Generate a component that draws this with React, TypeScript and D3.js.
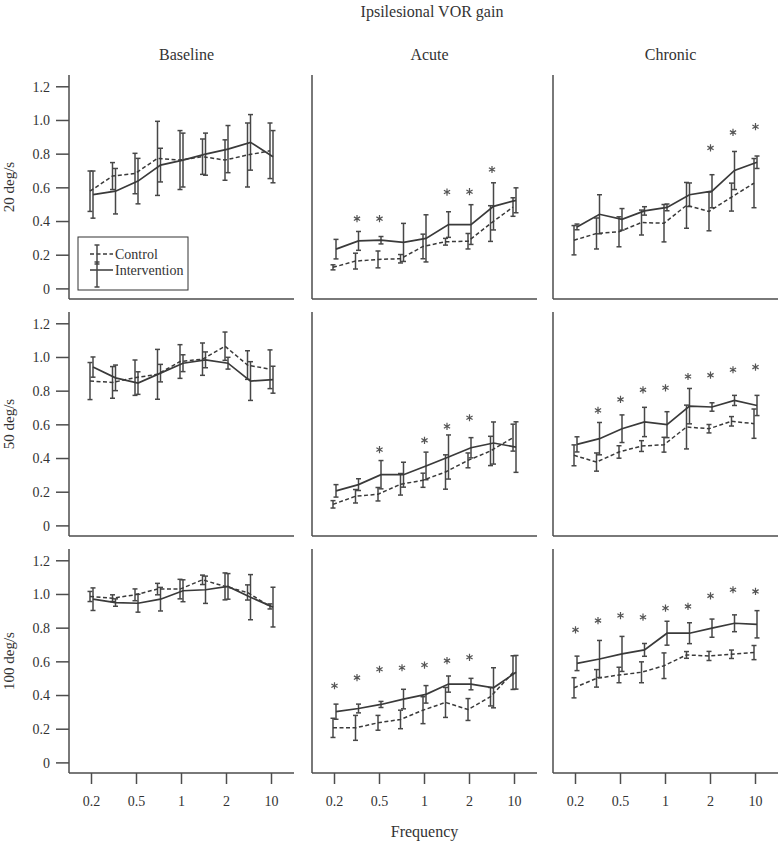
import React from "react";
import * as d3 from "d3";

// ---------- data ----------
const frequencies = ["0.2", "0.3", "0.5", "0.7", "1", "1.5", "2", "5", "10"];
const tickFrequencies = ["0.2", "0.5", "1", "2", "10"];
const phases = ["Baseline", "Acute", "Chronic"];
const velocities = ["20 deg/s", "50 deg/s", "100 deg/s"];
const yTicks = [0, 0.2, 0.4, 0.6, 0.8, 1.0, 1.2];

// 20 deg/s
const baseline20Control = [0.58, 0.67, 0.685, 0.775, 0.765, 0.785, 0.765, 0.795, 0.82];
const baseline20ControlErr = [0.12, 0.08, 0.12, 0.22, 0.175, 0.105, 0.12, 0.19, 0.165];
const baseline20Interv = [0.56, 0.58, 0.64, 0.735, 0.765, 0.8, 0.83, 0.87, 0.785];
const baseline20IntervErr = [0.14, 0.135, 0.135, 0.1, 0.16, 0.125, 0.14, 0.165, 0.155];
const baseline20Stars: [number, number][] = [];

const acute20Control = [0.128, 0.165, 0.175, 0.179, 0.252, 0.28, 0.283, 0.388, 0.486];
const acute20ControlErr = [0.015, 0.047, 0.05, 0.025, 0.073, 0.02, 0.046, 0.106, 0.055];
const acute20Interv = [0.236, 0.285, 0.289, 0.276, 0.3, 0.382, 0.382, 0.49, 0.526];
const acute20IntervErr = [0.058, 0.056, 0.022, 0.113, 0.14, 0.076, 0.118, 0.14, 0.074];
const acute20Stars: [number, number][] = [[1, 0.417], [2, 0.417], [5, 0.575], [6, 0.577], [7, 0.709]];

const chronic20Control = [0.289, 0.329, 0.339, 0.394, 0.39, 0.496, 0.46, 0.545, 0.628];
const chronic20ControlErr = [0.087, 0.092, 0.089, 0.074, 0.111, 0.136, 0.115, 0.083, 0.146];
const chronic20Interv = [0.368, 0.443, 0.413, 0.463, 0.484, 0.559, 0.58, 0.703, 0.752];
const chronic20IntervErr = [0.017, 0.116, 0.064, 0.025, 0.02, 0.07, 0.098, 0.113, 0.037];
const chronic20Stars: [number, number][] = [[6, 0.837], [7, 0.929], [8, 0.963]];

// 50 deg/s
const baseline50Control = [0.86, 0.852, 0.88, 0.9, 0.976, 0.99, 1.067, 0.955, 0.93];
const baseline50ControlErr = [0.11, 0.094, 0.105, 0.148, 0.1, 0.096, 0.084, 0.085, 0.115];
const baseline50Interv = [0.943, 0.879, 0.848, 0.907, 0.966, 0.986, 0.966, 0.86, 0.868];
const baseline50IntervErr = [0.06, 0.076, 0.067, 0.052, 0.05, 0.047, 0.035, 0.115, 0.08];
const baseline50Stars: [number, number][] = [];

const acute50Control = [0.128, 0.176, 0.188, 0.247, 0.271, 0.32, 0.389, 0.445, 0.524];
const acute50ControlErr = [0.022, 0.04, 0.04, 0.064, 0.042, 0.102, 0.044, 0.087, 0.08];
const acute50Interv = [0.208, 0.245, 0.304, 0.304, 0.356, 0.409, 0.464, 0.492, 0.468];
const acute50IntervErr = [0.037, 0.035, 0.084, 0.074, 0.082, 0.131, 0.06, 0.125, 0.15];
const acute50Stars: [number, number][] = [[2, 0.453], [4, 0.508], [5, 0.591], [6, 0.642]];

const chronic50Control = [0.419, 0.379, 0.439, 0.474, 0.482, 0.587, 0.577, 0.621, 0.607];
const chronic50ControlErr = [0.062, 0.054, 0.037, 0.032, 0.044, 0.13, 0.025, 0.028, 0.087];
const chronic50Interv = [0.484, 0.518, 0.577, 0.617, 0.601, 0.711, 0.706, 0.745, 0.715];
const chronic50IntervErr = [0.045, 0.096, 0.082, 0.087, 0.077, 0.105, 0.025, 0.03, 0.06];
const chronic50Stars: [number, number][] = [[1, 0.686], [2, 0.751], [3, 0.808], [4, 0.82], [5, 0.887], [6, 0.895], [7, 0.927], [8, 0.943]];

// 100 deg/s
const baseline100Control = [0.988, 0.978, 0.998, 1.032, 1.032, 1.087, 1.048, 1.012, 0.929];
const baseline100ControlErr = [0.03, 0.02, 0.035, 0.034, 0.058, 0.028, 0.08, 0.045, 0.015];
const baseline100Interv = [0.972, 0.952, 0.948, 0.972, 1.022, 1.028, 1.048, 0.984, 0.925];
const baseline100IntervErr = [0.067, 0.022, 0.053, 0.07, 0.065, 0.081, 0.076, 0.134, 0.118];
const baseline100Stars: [number, number][] = [];

const acute100Control = [0.208, 0.208, 0.238, 0.258, 0.313, 0.359, 0.317, 0.393, 0.536];
const acute100ControlErr = [0.057, 0.074, 0.044, 0.055, 0.08, 0.089, 0.065, 0.055, 0.1];
const acute100Interv = [0.304, 0.323, 0.347, 0.379, 0.407, 0.468, 0.468, 0.446, 0.538];
const acute100IntervErr = [0.045, 0.026, 0.018, 0.058, 0.052, 0.048, 0.034, 0.119, 0.1];
const acute100Stars: [number, number][] = [[0, 0.458], [1, 0.506], [2, 0.556], [3, 0.565], [4, 0.581], [5, 0.607], [6, 0.627]];

const chronic100Control = [0.446, 0.502, 0.522, 0.538, 0.577, 0.641, 0.635, 0.645, 0.655];
const chronic100ControlErr = [0.06, 0.052, 0.046, 0.062, 0.076, 0.02, 0.027, 0.025, 0.042];
const chronic100Interv = [0.591, 0.617, 0.647, 0.671, 0.77, 0.77, 0.8, 0.829, 0.823];
const chronic100IntervErr = [0.043, 0.11, 0.104, 0.038, 0.071, 0.062, 0.054, 0.05, 0.081];
const chronic100Stars: [number, number][] = [[0, 0.79], [1, 0.845], [2, 0.875], [3, 0.865], [4, 0.919], [5, 0.929], [6, 0.992], [7, 1.028], [8, 1.018]];

type Panel = {
  c: number[]; ce: number[]; v: number[]; ve: number[]; stars: [number, number][];
};

const panels: Panel[][] = [
  [
    { c: baseline20Control, ce: baseline20ControlErr, v: baseline20Interv, ve: baseline20IntervErr, stars: baseline20Stars },
    { c: acute20Control, ce: acute20ControlErr, v: acute20Interv, ve: acute20IntervErr, stars: acute20Stars },
    { c: chronic20Control, ce: chronic20ControlErr, v: chronic20Interv, ve: chronic20IntervErr, stars: chronic20Stars },
  ],
  [
    { c: baseline50Control, ce: baseline50ControlErr, v: baseline50Interv, ve: baseline50IntervErr, stars: baseline50Stars },
    { c: acute50Control, ce: acute50ControlErr, v: acute50Interv, ve: acute50IntervErr, stars: acute50Stars },
    { c: chronic50Control, ce: chronic50ControlErr, v: chronic50Interv, ve: chronic50IntervErr, stars: chronic50Stars },
  ],
  [
    { c: baseline100Control, ce: baseline100ControlErr, v: baseline100Interv, ve: baseline100IntervErr, stars: baseline100Stars },
    { c: acute100Control, ce: acute100ControlErr, v: acute100Interv, ve: acute100IntervErr, stars: acute100Stars },
    { c: chronic100Control, ce: chronic100ControlErr, v: chronic100Interv, ve: chronic100IntervErr, stars: chronic100Stars },
  ],
];

// ---------- layout ----------
const W = 780;
const H = 841;
const colLeft = [69, 312, 553];
const panelW = 225;
const rowTop = [75, 312, 549];
const panelH = 224;
const FONT = "'Liberation Serif', 'Times New Roman', serif";
const INK = "#3a3a3a";
const AXIS = "#4d4d4d";
const BAR = "#474747";
const DODGE = 1.5;
const CAP = 2.5;
const STAR_R = 3.6;

// six-armed asterisk centred on (0,0)
const starPath = d3.range(3)
  .map((k) => {
    const a = (Math.PI / 3) * k + Math.PI / 2;
    const dx = STAR_R * Math.cos(a);
    const dy = STAR_R * Math.sin(a);
    return `M${-dx},${-dy}L${dx},${dy}`;
  })
  .join("");

function ErrorBars({ xs, ys, errs, x, y, dx }: any) {
  return (
    <g stroke={BAR} strokeWidth={1.5} fill="none">
      {ys.map((m: number, i: number) => {
        const cx = (x(xs[i]) as number) + dx;
        const y1 = y(m - errs[i]);
        const y2 = y(m + errs[i]);
        return (
          <g key={i}>
            <line x1={cx} x2={cx} y1={y1} y2={y2} />
            <line x1={cx - CAP} x2={cx + CAP} y1={y1} y2={y1} />
            <line x1={cx - CAP} x2={cx + CAP} y1={y2} y2={y2} />
          </g>
        );
      })}
    </g>
  );
}

function PanelView({ r, ci, p }: { r: number; ci: number; p: Panel }) {
  const l = colLeft[ci];
  const t = rowTop[r];
  const b = t + panelH;
  const x = d3.scalePoint<string>().domain(frequencies).range([l, l + panelW]).padding(1);
  const y = d3.scaleLinear().domain([-0.06, 1.27]).range([b, t]);
  const lineC = d3.line<number>().x((_, i) => (x(frequencies[i]) as number) - DODGE).y((d) => y(d));
  const lineV = d3.line<number>().x((_, i) => (x(frequencies[i]) as number) + DODGE).y((d) => y(d));
  return (
    <g>
      <line x1={l} x2={l} y1={t} y2={b} stroke={AXIS} strokeWidth={1.5} />
      <line x1={l} x2={l + panelW} y1={b} y2={b} stroke={AXIS} strokeWidth={1.5} />
      {ci === 0 &&
        yTicks.map((v) => (
          <g key={v}>
            <line x1={l - 13} x2={l} y1={y(v)} y2={y(v)} stroke={AXIS} strokeWidth={1.5} />
            <text x={l - 19} y={y(v)} dy="0.35em" textAnchor="end" fontSize={14} fontFamily={FONT} fill="#333">
              {v === 0 ? "0" : v.toFixed(1)}
            </text>
          </g>
        ))}
      {r === 2 &&
        tickFrequencies.map((f) => (
          <g key={f}>
            <line x1={x(f)} x2={x(f)} y1={b} y2={b + 11} stroke={AXIS} strokeWidth={1.5} />
            <text x={x(f)} y={b + 33} textAnchor="middle" fontSize={14} fontFamily={FONT} fill="#333">
              {f}
            </text>
          </g>
        ))}
      <ErrorBars xs={frequencies} ys={p.c} errs={p.ce} x={x} y={y} dx={-DODGE} />
      <ErrorBars xs={frequencies} ys={p.v} errs={p.ve} x={x} y={y} dx={DODGE} />
      <path d={lineC(p.c) || ""} fill="none" stroke={INK} strokeWidth={1.5} strokeDasharray="4,2.5" />
      <path d={lineV(p.v) || ""} fill="none" stroke={INK} strokeWidth={1.7} />
      {p.stars.map(([i, v]) => (
        <path
          key={i}
          d={starPath}
          transform={`translate(${x(frequencies[i])},${y(v)})`}
          stroke="#555"
          strokeWidth={1.2}
          fill="none"
        />
      ))}
    </g>
  );
}

function Legend() {
  const bx = 78, by = 237, bw = 110, bh = 53;
  const lx1 = 90, lx2 = 113, bxBar = 97;
  const rows = [
    { label: "Control", y: 254, dash: "4,2.5", b1: 245, b2: 264 },
    { label: "Intervention", y: 270, dash: undefined, b1: 262, b2: 287 },
  ];
  return (
    <g>
      <rect x={bx} y={by} width={bw} height={bh} fill="white" stroke="#333" strokeWidth={1} />
      {rows.map((rw) => (
        <g key={rw.label}>
          <line x1={lx1} x2={lx2} y1={rw.y} y2={rw.y} stroke={INK} strokeWidth={1.5} strokeDasharray={rw.dash} />
          <g stroke={BAR} strokeWidth={1.5}>
            <line x1={bxBar} x2={bxBar} y1={rw.b1} y2={rw.b2} />
            <line x1={bxBar - CAP} x2={bxBar + CAP} y1={rw.b1} y2={rw.b1} />
            <line x1={bxBar - CAP} x2={bxBar + CAP} y1={rw.b2} y2={rw.b2} />
          </g>
          <text x={115} y={rw.y} dy="0.35em" fontSize={14} fontFamily={FONT} fill="#333">
            {rw.label}
          </text>
        </g>
      ))}
    </g>
  );
}

export default function App() {
  return (
    <svg width={W} height={H} style={{ position: "absolute", left: 0, top: 0, background: "white" }}>
      <rect x={0} y={0} width={W} height={H} fill="white" />
      <text x={432} y={17} textAnchor="middle" fontSize={16} fontFamily={FONT} fill="#333">
        Ipsilesional VOR gain
      </text>
      {phases.map((ph, ci) => (
        <text key={ph} x={colLeft[ci] + panelW / 2 + 5} y={60} textAnchor="middle" fontSize={16} fontFamily={FONT} fill="#333">
          {ph}
        </text>
      ))}
      {velocities.map((v, r) => (
        <text
          key={v}
          transform={`translate(14,${rowTop[r] + panelH / 2}) rotate(-90)`}
          textAnchor="middle"
          fontSize={15}
          fontFamily={FONT}
          fill="#333"
        >
          {v}
        </text>
      ))}
      <text x={colLeft[1] + panelW / 2} y={837} textAnchor="middle" fontSize={16} fontFamily={FONT} fill="#333">
        Frequency
      </text>
      {panels.map((row, r) => row.map((p, ci) => <PanelView key={`${r}-${ci}`} r={r} ci={ci} p={p} />))}
      <Legend />
    </svg>
  );
}
